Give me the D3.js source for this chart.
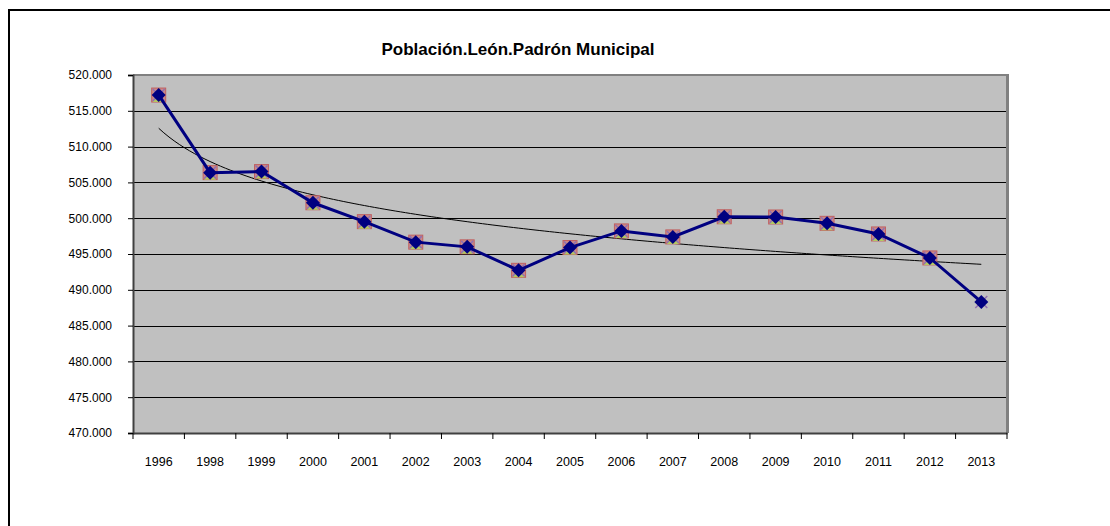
<!DOCTYPE html>
<html>
<head>
<meta charset="utf-8">
<script src="https://cdn.jsdelivr.net/npm/d3@7"></script>
<style>
  body { margin: 0; background: #fff; }
  text { font-family: "Liberation Sans", Arial, sans-serif; }
</style>
</head>
<body>
<svg id="chart" width="1110" height="526"></svg>
<script>
// data
const years = ["1996", "1998", "1999", "2000", "2001", "2002", "2003", "2004", "2005",
               "2006", "2007", "2008", "2009", "2010", "2011", "2012", "2013"];
const poblacion = [517200, 506365, 506511, 502155, 499517, 496655, 495998, 492720, 495902,
                   498223, 497387, 500200, 500169, 499284, 497799, 494451, 488300];
const yTicks = [470000, 475000, 480000, 485000, 490000, 495000, 500000, 505000, 510000, 515000, 520000];
const title = "Población.León.Padrón Municipal";

var svg = d3.select("#chart"),
    pLeft = 133, pTop = 75, pRight = 1007, pBottom = 433;

// outer chart border
svg.append("rect")
   .attr("x", 9).attr("y", 10)
   .attr("width", 1110).attr("height", 540)
   .attr("fill", "#fff").attr("stroke", "#000").attr("stroke-width", 2);

var x = d3.scaleBand().domain(years).range([pLeft, pRight]),
    y = d3.scaleLinear().domain([470000, 520000]).range([pBottom, pTop]);

// plot area
svg.append("rect")
   .attr("x", pLeft).attr("y", pTop)
   .attr("width", pRight - pLeft).attr("height", pBottom - pTop)
   .attr("fill", "#c0c0c0");

// gridlines
svg.append("g")
   .selectAll("line")
   .data(yTicks.slice(1, -1))
   .enter().append("line")
   .attr("x1", pLeft).attr("x2", pRight)
   .attr("y1", d => Math.round(y(d)) + 0.5).attr("y2", d => Math.round(y(d)) + 0.5)
   .attr("stroke", "#000").attr("stroke-width", 1);

// top and right frame of plot area
svg.append("line")
   .attr("x1", pLeft).attr("x2", pRight)
   .attr("y1", pTop).attr("y2", pTop)
   .attr("stroke", "#808080").attr("stroke-width", 2);
svg.append("line")
   .attr("x1", pRight + 0.5).attr("x2", pRight + 0.5)
   .attr("y1", pTop - 1).attr("y2", pBottom)
   .attr("stroke", "#808080").attr("stroke-width", 3);

// y axis
var fmt = d => d3.format(",")(d).replace(/,/g, ".");
var yAxis = svg.append("g")
   .attr("transform", "translate(" + pLeft + ",0)")
   .call(d3.axisLeft(y).tickValues(yTicks).tickFormat(fmt).tickSize(5).tickPadding(16));
yAxis.select(".domain").attr("stroke", "#404040").attr("stroke-width", 2);
yAxis.selectAll(".tick line").attr("stroke", "#000");
yAxis.selectAll("text").attr("font-size", "12px").attr("fill", "#000");

// x axis, ticks between categories
var xAxis = svg.append("g")
   .attr("transform", "translate(0," + pBottom + ")")
   .call(d3.axisBottom(x).tickSize(0).tickPadding(24));
xAxis.select(".domain").attr("stroke", "#404040").attr("stroke-width", 2);
xAxis.selectAll("text").attr("font-size", "12.5px").attr("fill", "#000");
xAxis.selectAll(".sep")
   .data(d3.range(years.length + 1))
   .enter().append("line")
   .attr("class", "sep")
   .attr("x1", i => pLeft + i * x.step()).attr("x2", i => pLeft + i * x.step())
   .attr("y1", 0).attr("y2", 6)
   .attr("stroke", "#000");

var cx = d => x(d) + x.bandwidth() / 2;

// logarithmic trend line fitted to the data
var lx = poblacion.map((v, i) => Math.log(i + 1)),
    mx = d3.mean(lx), my = d3.mean(poblacion),
    slope = d3.sum(lx, (v, i) => (v - mx) * (poblacion[i] - my)) / d3.sum(lx, v => (v - mx) * (v - mx)),
    icpt = my - slope * mx;
var trendPts = d3.range(0, years.length - 1 + 0.01, 0.1).map(t => [
    pLeft + x.step() / 2 + t * x.step(), y(icpt + slope * Math.log(t + 1))]);
svg.append("path")
   .attr("d", d3.line()(trendPts))
   .attr("fill", "none").attr("stroke", "#000").attr("stroke-width", 1);

// hidden series markers behind (square, triangle, cross)
var pts = years.map((d, i) => ({ year: d, value: poblacion[i], i: i }));
var back = svg.append("g");
back.selectAll(".sq")
   .data(pts.slice(0, -1))
   .enter().append("rect")
   .attr("x", d => cx(d.year) - 7).attr("y", d => y(d.value) - 7)
   .attr("width", 14).attr("height", 14)
   .attr("fill", "#c98a8a").attr("stroke", "#c06060").attr("stroke-width", 1);
back.selectAll(".tri")
   .data(pts.slice(0, -1))
   .enter().append("path")
   .attr("d", d => "M" + (cx(d.year) - 6) + "," + (y(d.value) + 7) + "L" + cx(d.year) + "," + (y(d.value) - 5) +
                   "L" + (cx(d.year) + 6) + "," + (y(d.value) + 7) + "Z")
   .attr("fill", "#b4c860");
back.selectAll(".cross")
   .data(pts)
   .enter().append("path")
   .attr("d", d => "M" + (cx(d.year) - 6) + "," + (y(d.value) - 6) + "L" + (cx(d.year) + 6) + "," + (y(d.value) + 6) +
                   "M" + (cx(d.year) + 6) + "," + (y(d.value) - 6) + "L" + (cx(d.year) - 6) + "," + (y(d.value) + 6))
   .attr("stroke", "#9070b0").attr("stroke-width", 1.5);

// main series
svg.append("path")
   .datum(pts)
   .attr("d", d3.line().x(d => cx(d.year)).y(d => y(d.value)))
   .attr("fill", "none").attr("stroke", "#000080").attr("stroke-width", 3);
svg.append("g")
   .selectAll("path")
   .data(pts)
   .enter().append("path")
   .attr("transform", d => "translate(" + cx(d.year) + "," + y(d.value) + ")")
   .attr("d", "M0,-7L7,0L0,7L-7,0Z")
   .attr("fill", "#000080");

svg.append("text")
   .attr("x", 518).attr("y", 55)
   .attr("text-anchor", "middle")
   .attr("font-family", "'Liberation Sans Narrow', 'Arial Narrow', sans-serif")
   .attr("font-weight", "bold")
   .attr("font-size", "17px")
   .text(title);
</script>
</body>
</html>
